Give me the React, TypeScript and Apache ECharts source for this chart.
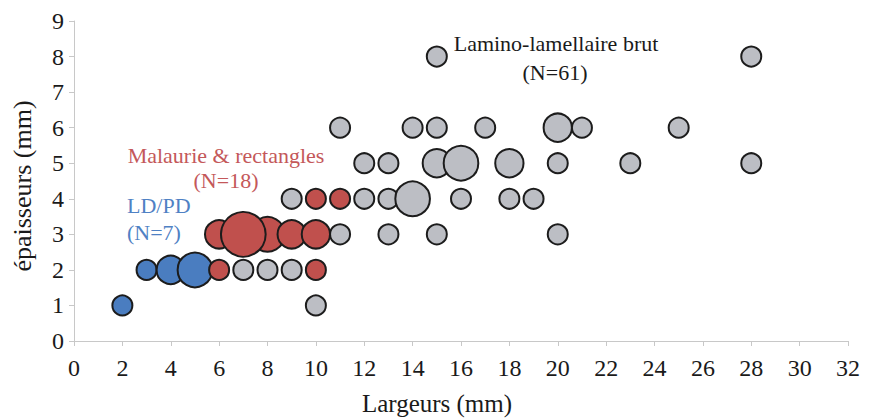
import React, { useEffect, useRef } from "react";
import * as echarts from "echarts";

// LD/PD (blue)
const ldpdLargeur = [2, 3, 4, 5];
const ldpdEpaisseur = [1, 2, 2, 2];
const ldpdEffectif = [1, 1, 2, 3];

// Malaurie & rectangles (red)
const malLargeur = [6, 10, 10, 11, 6, 8, 7, 9, 10];
const malEpaisseur = [2, 2, 4, 4, 3, 3, 3, 3, 3];
const malEffectif = [1, 1, 1, 1, 2, 3, 5, 2, 2];

// Lamino-lamellaire brut (grey)
const lamLargeur = [10, 7, 8, 9, 11, 13, 15, 20, 9, 12, 13, 14, 16, 18, 19, 12, 13, 15, 16, 18, 20, 23, 28, 11, 14, 15, 17, 20, 21, 25, 15, 28];
const lamEpaisseur = [1, 2, 2, 2, 3, 3, 3, 3, 4, 4, 4, 4, 4, 4, 4, 5, 5, 5, 5, 5, 5, 5, 5, 6, 6, 6, 6, 6, 6, 6, 8, 8];
const lamEffectif = [1, 1, 1, 1, 1, 1, 1, 1, 1, 1, 1, 3, 1, 1, 1, 1, 1, 2, 3, 2, 1, 1, 1, 1, 1, 1, 1, 2, 1, 1, 1, 1];

const xTicks = { min: 0, max: 32, interval: 2 };
const yTicks = { min: 0, max: 9, interval: 1 };

const FONT = '"Liberation Serif", "Times New Roman", serif';

function toData(xs: number[], ys: number[], ns: number[]) {
  return xs.map((x, i) => [x, ys[i], ns[i]]);
}

function bubble(name: string, data: number[][], color: string) {
  return {
    name,
    type: "scatter",
    data,
    symbol: "circle",
    symbolSize: (v: number[]) => 20 * Math.sqrt(v[2]),
    itemStyle: { color, borderColor: "#1c1c1c", borderWidth: 2, opacity: 1 },
    emphasis: { disabled: true },
  };
}

export default function App() {
  const ref = useRef<HTMLDivElement>(null);
  useEffect(() => {
    if (!ref.current) return;
    const chart = echarts.init(ref.current, undefined, { renderer: "svg" });
    const axisColor = "#c8c8c8";
    chart.setOption({
      animation: false,
      backgroundColor: "#ffffff",
      grid: { left: 74, right: 21, top: 21, bottom: 78 },
      xAxis: {
        type: "value",
        min: xTicks.min,
        max: xTicks.max,
        interval: xTicks.interval,
        splitLine: { show: false },
        axisLine: { show: true, lineStyle: { color: axisColor, width: 1 } },
        axisTick: { show: true, length: 5, lineStyle: { color: axisColor } },
        axisLabel: { color: "#1a1a1a", fontFamily: FONT, fontSize: 24, margin: 15 },
      },
      yAxis: {
        type: "value",
        min: yTicks.min,
        max: yTicks.max,
        interval: yTicks.interval,
        splitLine: { show: false },
        axisLine: { show: true, lineStyle: { color: axisColor, width: 1 } },
        axisTick: { show: true, length: 5, lineStyle: { color: axisColor } },
        axisLabel: { color: "#1a1a1a", fontFamily: FONT, fontSize: 24, margin: 10 },
      },
      series: [
        bubble("Lamino-lamellaire brut", toData(lamLargeur, lamEpaisseur, lamEffectif), "#bcbec4"),
        bubble("LD/PD", toData(ldpdLargeur, ldpdEpaisseur, ldpdEffectif), "#4a7dc0"),
        bubble("Malaurie & rectangles", toData(malLargeur, malEpaisseur, malEffectif), "#c0504d"),
      ],
      graphic: [
        { type: "text", x: 556, y: 43, style: { text: "Lamino-lamellaire brut", fill: "#1a1a1a", font: `22px ${FONT}`, textAlign: "center", textVerticalAlign: "middle" } },
        { type: "text", x: 555, y: 72, style: { text: "(N=61)", fill: "#1a1a1a", font: `22px ${FONT}`, textAlign: "center", textVerticalAlign: "middle" } },
        { type: "text", x: 226, y: 155, style: { text: "Malaurie & rectangles", fill: "#c4585a", font: `22px ${FONT}`, textAlign: "center", textVerticalAlign: "middle" } },
        { type: "text", x: 226, y: 180, style: { text: "(N=18)", fill: "#c4585a", font: `22px ${FONT}`, textAlign: "center", textVerticalAlign: "middle" } },
        { type: "text", x: 127, y: 205, style: { text: "LD/PD", fill: "#4f81c4", font: `22px ${FONT}`, textAlign: "left", textVerticalAlign: "middle" } },
        { type: "text", x: 127, y: 232, style: { text: "(N=7)", fill: "#4f81c4", font: `22px ${FONT}`, textAlign: "left", textVerticalAlign: "middle" } },
        { type: "text", x: 437, y: 403, style: { text: "Largeurs (mm)", fill: "#1a1a1a", font: `25px ${FONT}`, textAlign: "center", textVerticalAlign: "middle" } },
        { type: "text", x: 22, y: 186, rotation: Math.PI / 2, style: { text: "épaisseurs (mm)", fill: "#1a1a1a", font: `26px ${FONT}`, textAlign: "center", textVerticalAlign: "middle" } },
      ],
    });
    return () => chart.dispose();
  }, []);
  return <div ref={ref} style={{ width: 869, height: 419, position: "absolute", left: 0, top: 0 }} />;
}
